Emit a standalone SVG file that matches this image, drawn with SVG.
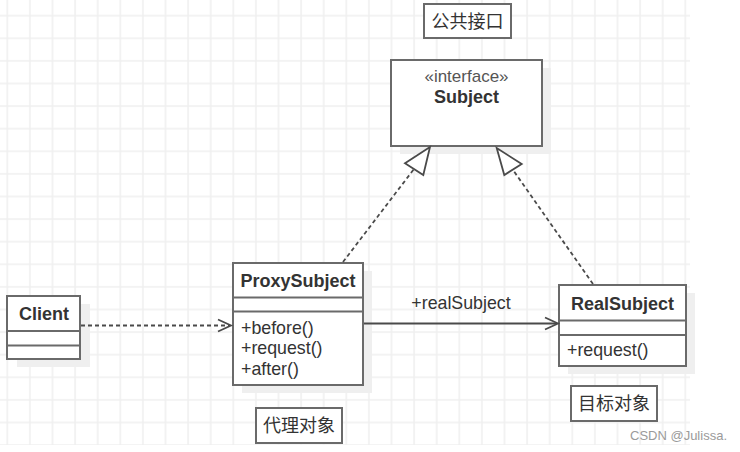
<svg xmlns="http://www.w3.org/2000/svg" width="740" height="452" viewBox="0 0 740 452">
<style>
.box{fill:#fff;stroke:#6a6a6a;stroke-width:2}
.shadow{fill:#efefef}
.sep{stroke:#6a6a6a;stroke-width:2}
.t{font-family:"Liberation Sans",Arial,sans-serif;font-size:17.8px;fill:#333}
.b{font-weight:bold;font-size:18px}
.st{font-family:"Liberation Sans",Arial,sans-serif;font-size:17px;fill:#555}
.cjk{font-family:"Noto Sans CJK SC","Liberation Sans",sans-serif;font-size:18px;fill:#333}
.dash{fill:none;stroke:#4a4a4a;stroke-width:1.8;stroke-dasharray:4 3}
.solid{fill:none;stroke:#4a4a4a;stroke-width:1.8}
.head{fill:#fff;stroke:#4a4a4a;stroke-width:1.8}
.open{fill:none;stroke:#4a4a4a;stroke-width:1.8}
</style>
<defs>
<pattern id="grid" x="6.3" y="14.7" width="22.6" height="22.6" patternUnits="userSpaceOnUse">
<path d="M1 0V22.6M0 1H22.6" stroke="#f0f0f0" stroke-width="1.6" fill="none"/>
</pattern>
</defs>
<rect width="740" height="452" fill="#fff"/>
<rect x="0" y="0" width="690" height="445" fill="url(#grid)"/>

<g id="label-interface">
<rect class="box" x="424" y="4" width="87" height="34"/>
<text class="cjk" x="467.5" y="28" text-anchor="middle">公共接口</text>
</g>

<g id="Subject">
<rect class="shadow" x="400" y="68" width="151" height="86"/>
<rect class="box" x="391" y="60" width="151" height="86"/>
<text class="st" x="466.5" y="82" text-anchor="middle">«interface»</text>
<text class="t b" x="466.5" y="103" text-anchor="middle">Subject</text>
</g>

<g id="Client">
<rect class="shadow" x="17" y="304" width="73" height="63"/>
<rect class="box" x="7" y="296" width="73" height="63"/>
<line class="sep" x1="7" y1="331" x2="80" y2="331"/>
<line class="sep" x1="7" y1="345.5" x2="80" y2="345.5"/>
<text class="t b" x="44" y="320" text-anchor="middle">Client</text>
</g>

<g id="ProxySubject">
<rect class="shadow" x="242" y="271" width="130" height="122"/>
<rect class="box" x="233" y="263" width="130" height="122"/>
<line class="sep" x1="233" y1="297.5" x2="363" y2="297.5"/>
<line class="sep" x1="233" y1="311.5" x2="363" y2="311.5"/>
<text class="t b" x="298" y="287" text-anchor="middle">ProxySubject</text>
<text class="t" x="241" y="333.5">+before()</text>
<text class="t" x="241" y="354">+request()</text>
<text class="t" x="241" y="374.5">+after()</text>
</g>

<g id="label-proxy">
<rect class="box" x="256" y="408" width="86" height="35"/>
<text class="cjk" x="299" y="432" text-anchor="middle">代理对象</text>
</g>

<g id="RealSubject">
<rect class="shadow" x="568" y="293" width="127" height="81"/>
<rect class="box" x="559" y="285" width="127" height="81"/>
<line class="sep" x1="559" y1="320.5" x2="686" y2="320.5"/>
<line class="sep" x1="559" y1="335" x2="686" y2="335"/>
<text class="t b" x="622.5" y="309.5" text-anchor="middle">RealSubject</text>
<text class="t" x="567" y="356">+request()</text>
</g>

<g id="label-real">
<rect class="box" x="571" y="386" width="86" height="35"/>
<text class="cjk" x="614" y="410" text-anchor="middle">目标对象</text>
</g>

<g id="connectors">
<line class="dash" x1="81" y1="325.5" x2="230" y2="325.5"/>
<polyline class="open" points="218,319.5 231,325.5 218,331.5"/>
<line class="solid" x1="364" y1="323.5" x2="557" y2="323.5"/>
<polyline class="open" points="545,317.5 558,323.5 545,329.5"/>
<text class="t" x="461" y="308.5" text-anchor="middle">+realSubject</text>
<line class="dash" x1="343" y1="262" x2="414" y2="169"/>
<polygon class="head" points="430,147 405,163.3 423.3,175"/>
<line class="dash" x1="593" y1="284" x2="513" y2="170"/>
<polygon class="head" points="496.7,148 504.3,175 521.7,164"/>
</g>

<text x="630" y="440" style="font-family:'Liberation Sans',Arial,sans-serif;font-size:13px;fill:#9a9a9a">CSDN @Julissa.</text>
</svg>
